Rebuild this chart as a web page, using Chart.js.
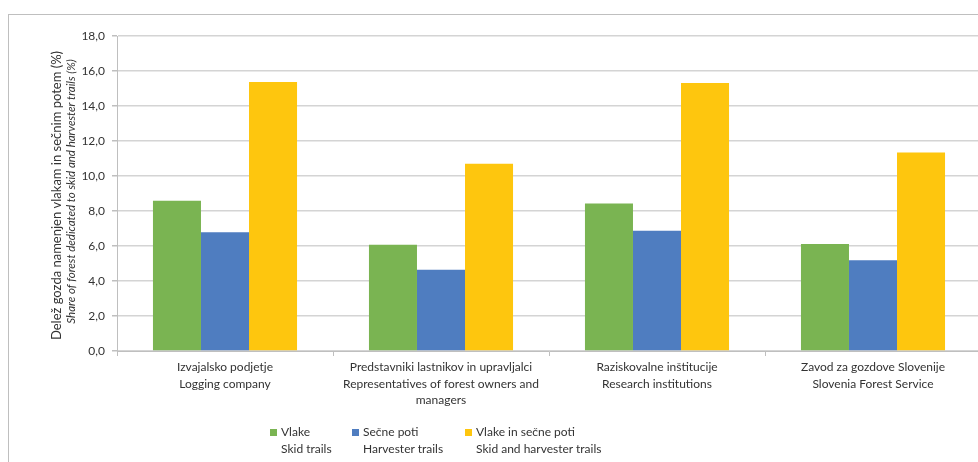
<!DOCTYPE html>
<html>
<head>
<meta charset="utf-8">
<title>Delež gozda namenjen vlakam in sečnim potem</title>
<script src="https://cdn.jsdelivr.net/npm/chart.js@4.4.1/dist/chart.umd.min.js"></script>
<style>
    html, body { margin: 0; padding: 0; background: #fff; overflow: hidden; }
    #frame {
        position: absolute; left: 8px; top: 14px; width: 1000px; height: 470px;
        border-top: 1px solid #bfbfbf; border-left: 1px solid #bfbfbf;
    }
    #wrap { position: absolute; left: 0; top: 0; width: 990px; height: 462px; }
    #legend {
        position: absolute; left: 270px; top: 424px; width: 500px; height: 36px;
        font-family: Lato, "Open Sans", sans-serif; font-size: 12px;
        color: #333; line-height: 16.5px;
    }
    .item { position: absolute; top: 0; display: flex; align-items: flex-start; }
    .swatch { width: 7px; height: 7px; margin-top: 5px; margin-right: 4px; }
</style>
</head>
<body>
<div id="frame"></div>
<div id="wrap"><canvas id="chart" width="990" height="462"></canvas></div>
<div id="legend"></div>

<script>
// Categories (two-language labels, one line per array entry)
const categories = [
    ['Izvajalsko podjetje', 'Logging company'],
    ['Predstavniki lastnikov in upravljalci', 'Representatives of forest owners and', 'managers'],
    ['Raziskovalne inštitucije', 'Research institutions'],
    ['Zavod za gozdove Slovenije', 'Slovenia Forest Service']
];

// Series names (Slovene / English)
const seriesNames = [
    ['Vlake', 'Skid trails'],
    ['Sečne poti', 'Harvester trails'],
    ['Vlake in sečne poti', 'Skid and harvester trails']
];

// Share of forest (%)
const skidTrails      = [8.58, 6.07, 8.43, 6.11];
const harvesterTrails = [6.78, 4.65, 6.87, 5.19];
const bothTrails      = [15.37, 10.70, 15.31, 11.34];

const seriesColors = ['#7ab452', '#4f7dc0', '#fec60e'];

const yTicks = [0, 2, 4, 6, 8, 10, 12, 14, 16, 18];
const yTitle = [
    'Delež gozda namenjen vlakam in sečnim potem (%)',
    'Share of forest dedicated to skid and harvester trails (%)'
];

const FONT = 'Lato, "Open Sans", sans-serif';
const TEXT = '#333';

// y-axis title: two lines, the English one in italics
const yTitlePlugin = {
    id: 'yTitle',
    afterDraw(chart) {
        const ctx = chart.ctx;
        const area = chart.chartArea;
        const cy = (area.top + area.bottom) / 2 + 2;
        ctx.save();
        ctx.fillStyle = TEXT;
        ctx.textAlign = 'center';
        ctx.textBaseline = 'middle';
        ctx.translate(57, cy);
        ctx.rotate(-Math.PI / 2);
        ctx.font = '13px ' + FONT;
        ctx.fillText(yTitle[0], 0, 0);
        ctx.font = 'italic 11.5px ' + FONT;
        ctx.fillText(yTitle[1], 4, 14.5);
        ctx.restore();
    }
};

const datasets = [skidTrails, harvesterTrails, bothTrails].map((vals, i) => ({
    label: seriesNames[i].join(' / '),
    data: vals,
    backgroundColor: seriesColors[i],
    borderWidth: 0,
    categoryPercentage: 0.667,
    barPercentage: 1.0
}));

const chart = new Chart(document.getElementById('chart'), {
    type: 'bar',
    data: { labels: categories, datasets },
    options: {
        responsive: false,
        animation: false,
        layout: { padding: { top: 36, right: 9, left: 0, bottom: 0 } },
        plugins: {
            legend: { display: false },
            tooltip: { enabled: false }
        },
        scales: {
            x: {
                offset: true,
                grid: { drawOnChartArea: false, tickLength: 5, color: '#bfbfbf' },
                border: { color: '#bfbfbf', width: 1 },
                ticks: {
                    color: TEXT, padding: 3, maxRotation: 0, autoSkip: false,
                    font: { family: FONT, size: 12, lineHeight: 1.38 }
                },
                afterFit(scale) { scale.height = 111; }
            },
            y: {
                min: 0, max: 18,
                afterBuildTicks(scale) { scale.ticks = yTicks.map(v => ({ value: v })); },
                grid: { color: '#d4d4d4', lineWidth: 1.5, tickLength: 5, tickColor: '#bfbfbf' },
                border: { color: '#bfbfbf', width: 1 },
                ticks: {
                    color: TEXT, padding: 7,
                    font: { family: FONT, size: 12 },
                    callback: v => v.toFixed(1).replace('.', ',')
                },
                afterFit(scale) { scale.width = 117; }
            }
        }
    },
    plugins: [yTitlePlugin]
});

// Legend: colour square followed by the two-language name
const legendOffsets = [0, 82, 195];
const legend = document.getElementById('legend');
chart.data.datasets.forEach((ds, i) => {
    const item = document.createElement('div');
    item.className = 'item';
    item.style.left = legendOffsets[i] + 'px';
    const sw = document.createElement('div');
    sw.className = 'swatch';
    sw.style.background = ds.backgroundColor;
    const txt = document.createElement('div');
    seriesNames[i].forEach(line => {
        const l = document.createElement('div');
        l.textContent = line;
        txt.appendChild(l);
    });
    item.appendChild(sw);
    item.appendChild(txt);
    legend.appendChild(item);
});
</script>
</body>
</html>
